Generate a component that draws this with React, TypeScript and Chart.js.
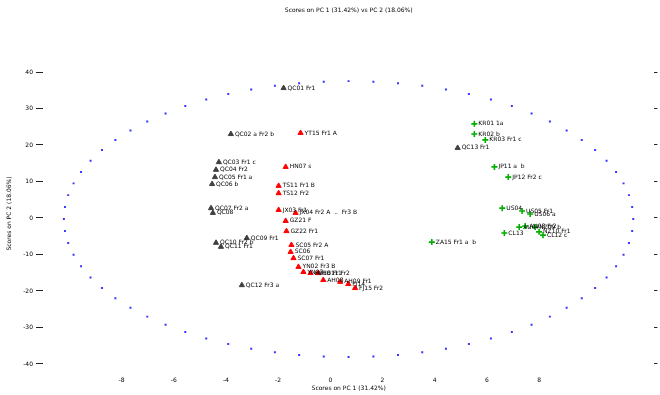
import React, { useEffect, useRef } from 'react';
import { Chart, registerables } from 'chart.js';

Chart.register(...registerables);

const TITLE = 'Scores on PC 1 (31.42%) vs PC 2 (18.06%)';
const X_TITLE = 'Scores on PC 1 (31.42%)';
const Y_TITLE = 'Scores on PC 2 (18.06%)';

const X_TICKS = [-8, -6, -4, -2, 0, 2, 4, 6, 8];
const Y_TICKS = [40, 30, 20, 10, 0, -10, -20, -30, -40];
const X_MIN = -11.01;
const X_MAX = 12.42;
const Y_MIN = -42.2;
const Y_MAX = 44.66;

// Group A (red)
const RED_X = [-1.14, -1.71, -1.98, -1.98, -1.98, -1.33, -1.71, -1.68, -1.49, -1.52, -1.41, -1.22, -1.03, -0.76, -0.46, -0.27, 0.38, 0.69, 0.95];
const RED_Y = [23.3, 14.0, 8.8, 6.8, 2.2, 1.4, -0.8, -3.6, -7.4, -9.3, -11.0, -13.4, -14.8, -15.1, -15.1, -17.0, -17.5, -18.1, -19.2];
const RED_LABELS = ['YT15 Fr1 A', 'HN07 s', 'TS11 Fr1 B', 'TS12 Fr2', 'JX03 Fr1', 'JX04 Fr2 A  ..  Fr3 B', 'GZ21 F', 'GZ22 Fr1', 'SC05 Fr2 A', 'SC06', 'SC07 Fr1', 'YN02 Fr3 B', 'YN03', 'HB10 Fr1', 'HB11 Fr2', 'AH08', 'AH09 Fr1', 'FJ14', 'FJ15 Fr2'];

// Group B (green)
const GREEN_X = [5.52, 5.52, 5.94, 6.29, 6.82, 6.59, 7.35, 7.66, 7.24, 7.47, 7.85, 8.0, 8.15, 6.67, 3.89];
const GREEN_Y = [25.8, 23.0, 21.4, 14.0, 11.2, 2.7, 1.9, 1.1, -2.5, -2.2, -2.5, -3.8, -4.7, -4.1, -6.6];
const GREEN_LABELS = ['KR01 1a', 'KR02 b', 'KR03 Fr1 c', 'JP11 a  b', 'JP12 Fr2 c', 'US04', 'US05 Fr1', 'US06 a', 'AU07', 'AU08 Fr2', 'NZ09 b', 'NZ10 Fr1', 'CL12 c', 'CL13', 'ZA15 Fr1 a  b'];

// Group C (dark grey)
const GREY_X = [-1.79, -3.81, -4.27, -4.38, -4.42, -4.53, -4.57, -4.5, -3.2, -4.38, -4.19, -3.39, 4.88];
const GREY_Y = [35.6, 23.0, 15.3, 13.2, 11.2, 9.3, 2.7, 1.4, -5.5, -6.8, -7.9, -18.4, 19.2];
const GREY_LABELS = ['QC01 Fr1', 'QC02 a Fr2 b', 'QC03 Fr1 c', 'QC04 Fr2', 'QC05 Fr1 a', 'QC06 b', 'QC07 Fr2 a', 'QC08', 'QC09 Fr1', 'QC10 Fr2 b', 'QC11 Fr1', 'QC12 Fr3 a', 'QC13 Fr1'];

// Hotelling T2 (95%) confidence ellipse parameters
const ELLIPSE_CENTER = [0.7, -0.3];
const ELLIPSE_RADII = [10.91, 37.8];
const ELLIPSE_POINTS = 72;

const FONT = 'DejaVu Sans';

function pts(xs: number[], ys: number[]) {
  return xs.map((x, i) => ({ x, y: ys[i] }));
}

const ellipseData = Array.from({ length: ELLIPSE_POINTS }, (_, i) => {
  const t = (2 * Math.PI * i) / ELLIPSE_POINTS;
  return { x: ELLIPSE_CENTER[0] + ELLIPSE_RADII[0] * Math.cos(t), y: ELLIPSE_CENTER[1] + ELLIPSE_RADII[1] * Math.sin(t) };
});

const labelPlugin = {
  id: 'pointLabels',
  afterDatasetsDraw(chart: any) {
    const ctx = chart.ctx;
    ctx.save();
    ctx.font = `6px "${FONT}"`;
    ctx.fillStyle = '#000';
    ctx.textBaseline = 'middle';
    ctx.textAlign = 'left';
    chart.data.datasets.forEach((ds: any, di: number) => {
      if (!ds.pointLabels) return;
      const meta = chart.getDatasetMeta(di);
      meta.data.forEach((el: any, i: number) => {
        ctx.fillText(ds.pointLabels[i], el.x + 4, el.y);
      });
    });
    const ca = chart.chartArea;
    ctx.textAlign = 'center';
    ctx.fillText(TITLE, (ca.left + ca.right) / 2, 10);
    ctx.restore();
  },
};

const setTicks = (vals: number[]) => (s: any) => {
  s.ticks = vals.map((v) => ({ value: v }));
};

export default function App() {
  const ref = useRef<HTMLCanvasElement>(null);
  useEffect(() => {
    if (!ref.current) return;
    const chart = new Chart(ref.current, {
      type: 'scatter',
      data: {
        datasets: [
          {
            label: 'T2 ellipse',
            data: ellipseData,
            pointStyle: 'rect',
            pointRadius: 1.4,
            backgroundColor: '#3535ff',
            borderWidth: 0,
            showLine: false,
          },
          {
            label: 'Group A',
            data: pts(RED_X, RED_Y),
            pointStyle: 'triangle',
            pointRadius: 3,
            backgroundColor: '#ff0000',
            borderColor: '#ff0000',
            borderWidth: 1,
            pointLabels: RED_LABELS,
          } as any,
          {
            label: 'Group B',
            data: pts(GREEN_X, GREEN_Y),
            pointStyle: 'cross',
            pointRadius: 3,
            backgroundColor: '#00b000',
            borderColor: '#00b000',
            borderWidth: 1.6,
            pointLabels: GREEN_LABELS,
          } as any,
          {
            label: 'Group C',
            data: pts(GREY_X, GREY_Y),
            pointStyle: 'triangle',
            pointRadius: 3,
            backgroundColor: '#404040',
            borderColor: '#404040',
            borderWidth: 1,
            pointLabels: GREY_LABELS,
          } as any,
        ],
      },
      options: {
        animation: false,
        responsive: false,
        maintainAspectRatio: false,
        layout: { padding: { top: 55, left: 0, right: 0, bottom: 0 } },
        plugins: {
          legend: { display: false },
          tooltip: { enabled: false },
          title: { display: false },
        },
        scales: {
          x: {
            type: 'linear',
            position: 'bottom',
            min: X_MIN,
            max: X_MAX,
            afterBuildTicks: setTicks(X_TICKS),
            afterFit: (s: any) => { s.height = 23; },
            grid: { display: false, drawTicks: false },
            border: { display: false },
            ticks: { font: { size: 6, family: FONT }, color: '#000', padding: 5, maxRotation: 0, autoSkip: false },
            title: { display: true, text: X_TITLE, font: { size: 6, family: FONT }, color: '#000', padding: { top: 0, bottom: 3 } },
          },
          y: {
            type: 'linear',
            position: 'left',
            min: Y_MIN,
            max: Y_MAX,
            afterBuildTicks: setTicks(Y_TICKS),
            afterFit: (s: any) => { s.width = 43; },
            grid: { drawOnChartArea: false, drawTicks: true, tickLength: 7, color: '#222' },
            border: { display: false },
            ticks: { font: { size: 6, family: FONT }, color: '#000', padding: 3, autoSkip: false },
            title: { display: true, text: Y_TITLE, font: { size: 6, family: FONT }, color: '#000', padding: { top: 6, bottom: 0 } },
          },
          y2: {
            type: 'linear',
            position: 'right',
            min: Y_MIN,
            max: Y_MAX,
            afterBuildTicks: setTicks(Y_TICKS),
            afterFit: (s: any) => { s.width = 2; },
            grid: { drawOnChartArea: false, drawTicks: true, tickLength: 3, color: '#222' },
            border: { display: false },
            ticks: { display: false },
          },
        },
      } as any,
      plugins: [labelPlugin],
    });
    return () => chart.destroy();
  }, []);
  return (
    <div style={{ position: 'fixed', left: 0, top: 0, width: 660, height: 395, background: '#fff' }}>
      <canvas ref={ref} width={660} height={395} style={{ display: 'block' }} />
    </div>
  );
}
